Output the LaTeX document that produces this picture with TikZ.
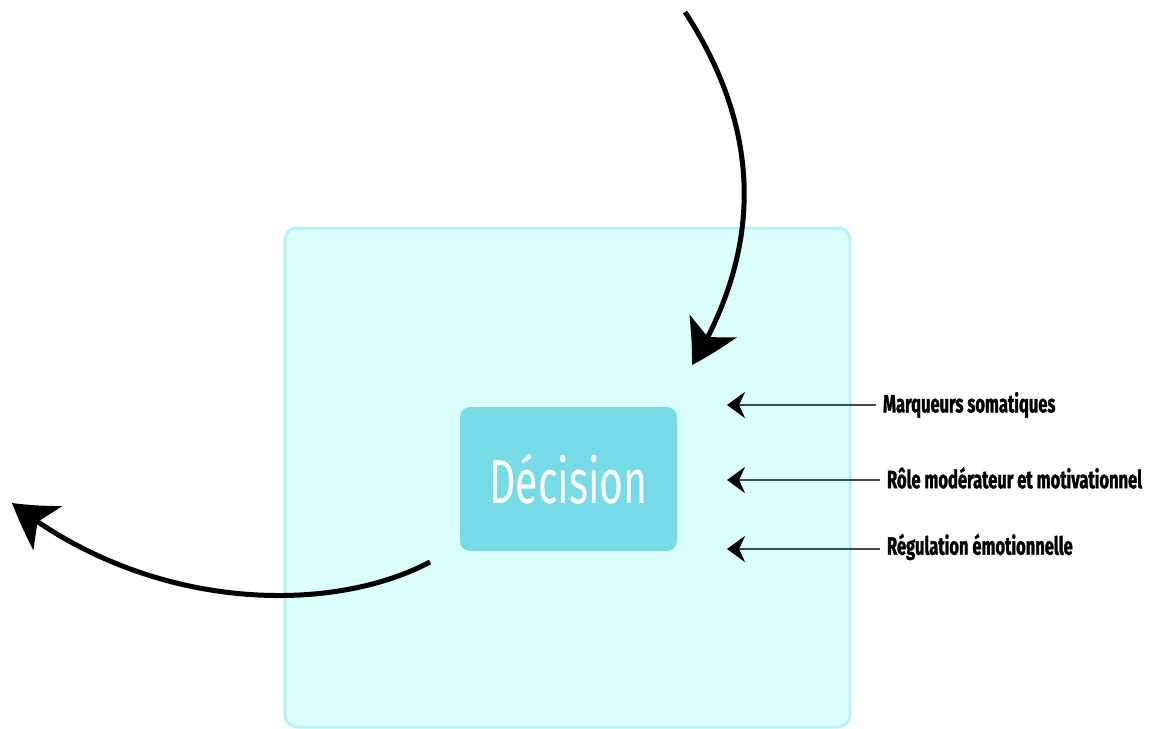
\documentclass[tikz,border=0pt]{standalone}
\usepackage{fontspec}
\usepackage{tikz}
\usetikzlibrary{arrows.meta,bending,positioning}
\newfontfamily\condfont[FakeStretch=0.66,BoldFeatures={FakeBold=1.3}]{Fira Sans}
\definecolor{panelfill}{HTML}{DBFDFB}
\definecolor{panelline}{HTML}{B6F2F8}
\definecolor{decfill}{HTML}{76DBE6}
\definecolor{cueline}{HTML}{3C4B5C}

\begin{document}
\begin{tikzpicture}[x=0.5pt,y=-0.5pt,>=Stealth]
  \useasboundingbox (0,0) rectangle (1153,729);
  % --- light panel behind everything ---
  \draw[panelline,fill=panelfill,line width=1.5pt,rounded corners=6pt]
       (285,228) rectangle (850,727);
  % --- the decision box ---
  \node[fill=decfill,rounded corners=5pt,minimum width=108.5pt,minimum height=72pt,
        text=white,font=\condfont\fontsize{31}{33}\selectfont] (dec) at (568.5,479) {Décision};
  % --- the three cues on the right ---
  \node[anchor=west,font=\condfont\bfseries\fontsize{12.5}{14}\selectfont] (som) at (876,405) {Marqueurs somatiques};
  \node[anchor=west,font=\condfont\bfseries\fontsize{12.5}{14}\selectfont] (mod) at (880,478) {Rôle modérateur et motivationnel};
  \node[anchor=west,font=\condfont\bfseries\fontsize{12.5}{14}\selectfont] (reg) at (880,547) {Régulation émotionnelle};
  \coordinate (somend) at (727,405);
  \coordinate (modend) at (727,480);
  \coordinate (regend) at (727,549);
  \foreach \a/\b in {som/somend,mod/modend,reg/regend}
    \draw[cueline,line width=1.2pt,-{Stealth[black,length=9pt,width=13pt,inset=3pt]}]
         (\a.west |- \b) -- (\b);
  % --- incoming arrow from above ---
  \coordinate (intop) at (685,12);
  \coordinate (intip) at (692,365);
  \draw[line width=2.5pt,-{Stealth[length=22pt,width=26pt,inset=6pt,bend]}]
       (intop) .. controls (775,150) and (750,270) .. (intip);
  % --- outgoing arrow to the left ---
  \coordinate (outstart) at (430,562);
  \coordinate (outtip) at (12,503);
  \draw[line width=2.5pt,-{Stealth[length=22pt,width=26pt,inset=6pt,bend]}]
       (outstart) .. controls (330,615) and (150,612) .. (outtip);
\end{tikzpicture}
\end{document}
